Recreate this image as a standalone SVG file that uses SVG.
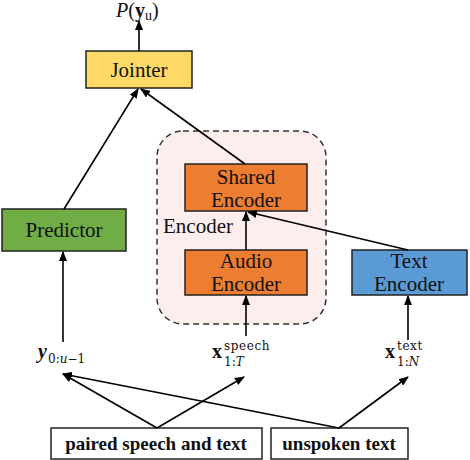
<svg xmlns="http://www.w3.org/2000/svg" width="470" height="460" viewBox="0 0 470 460">
<defs>
<marker id="ah" markerUnits="userSpaceOnUse" markerWidth="10" markerHeight="8" refX="9" refY="4" orient="auto">
<path d="M0,0 L10,4 L0,8 Z" fill="#000"/>
</marker>
<style>
.box{stroke:#222;stroke-width:1.5}
.lbl{font-family:"Liberation Serif","Times New Roman",serif;font-size:21px;fill:#111;text-anchor:middle}
.bt{font-family:"Liberation Serif","Times New Roman",serif;font-size:19px;font-weight:bold;fill:#111;text-anchor:middle}
.m{font-family:"Liberation Serif","Times New Roman",serif;fill:#111}
.s{font-family:"DejaVu Serif",serif;font-size:12px;fill:#111}
.c{stroke:#000;stroke-width:1.6;fill:none;marker-end:url(#ah)}
</style>
</defs>
<rect width="470" height="460" fill="#fff"/>

<g id="encoder-group">
<rect x="157" y="131" width="169" height="193" rx="26" fill="#FDEDED" stroke="#333" stroke-width="1.5" stroke-dasharray="6,4"/>
<text class="lbl" x="198" y="233">Encoder</text>
</g>

<g id="jointer">
<rect class="box" x="86" y="51" width="106" height="37" fill="#FFD966"/>
<text class="lbl" x="139" y="77">Jointer</text>
</g>

<g id="predictor">
<rect class="box" x="2" y="209" width="124" height="42" fill="#70AD47"/>
<text class="lbl" x="64" y="237">Predictor</text>
</g>

<g id="shared-encoder">
<rect class="box" x="185" y="164" width="122" height="47" fill="#ED7D31"/>
<text class="lbl" x="246" y="184">Shared</text>
<text class="lbl" x="246" y="207">Encoder</text>
</g>

<g id="audio-encoder">
<rect class="box" x="185" y="250" width="122" height="45" fill="#ED7D31"/>
<text class="lbl" x="246" y="268">Audio</text>
<text class="lbl" x="246" y="291">Encoder</text>
</g>

<g id="text-encoder">
<rect class="box" x="352" y="250" width="115" height="45" fill="#5B9BD5"/>
<text class="lbl" x="409" y="268">Text</text>
<text class="lbl" x="409" y="291">Encoder</text>
</g>

<g id="paired">
<rect class="box" x="51" y="428" width="211" height="31" fill="#fff"/>
<text class="bt" x="156" y="450">paired speech and text</text>
</g>

<g id="unspoken">
<rect class="box" x="271" y="428" width="137" height="31" fill="#fff"/>
<text class="bt" x="339" y="450">unspoken text</text>
</g>

<g id="output-label">
<text class="m" x="116" y="17" font-size="20"><tspan font-style="italic">P</tspan>(<tspan font-weight="bold">y</tspan><tspan font-size="14" dy="3">u</tspan><tspan dy="-3">)</tspan></text>
</g>

<g id="y-label">
<text class="m" x="38" y="358" font-size="20" font-weight="bold" font-style="italic">y</text>
<text class="s" x="48" y="363">0:<tspan font-style="italic">u</tspan>−1</text>
</g>

<g id="xspeech-label">
<text class="m" x="212" y="358" font-size="20" font-weight="bold">x</text>
<text class="s" x="224" y="350" letter-spacing="0.6">speech</text>
<text class="s" x="224" y="366">1:<tspan font-style="italic">T</tspan></text>
</g>

<g id="xtext-label">
<text class="m" x="385" y="358" font-size="20" font-weight="bold">x</text>
<text class="s" x="397" y="350" letter-spacing="0.6">text</text>
<text class="s" x="397" y="366">1:<tspan font-style="italic">N</tspan></text>
</g>

<g id="connectors">
<line class="c" x1="139" y1="51" x2="139" y2="21"/>
<line class="c" x1="64" y1="209" x2="138" y2="89"/>
<line class="c" x1="245" y1="164" x2="141" y2="89"/>
<line class="c" x1="246" y1="250" x2="246" y2="212"/>
<line class="c" x1="246" y1="336" x2="246" y2="296"/>
<line class="c" x1="408" y1="250" x2="248" y2="212"/>
<line class="c" x1="408" y1="340" x2="408" y2="296"/>
<line class="c" x1="63" y1="342" x2="63" y2="252"/>
<line class="c" x1="157" y1="428" x2="63" y2="374"/>
<line class="c" x1="157" y1="428" x2="244" y2="377"/>
<line class="c" x1="339" y1="428" x2="63" y2="374"/>
<line class="c" x1="339" y1="428" x2="408" y2="377"/>
</g>
</svg>
